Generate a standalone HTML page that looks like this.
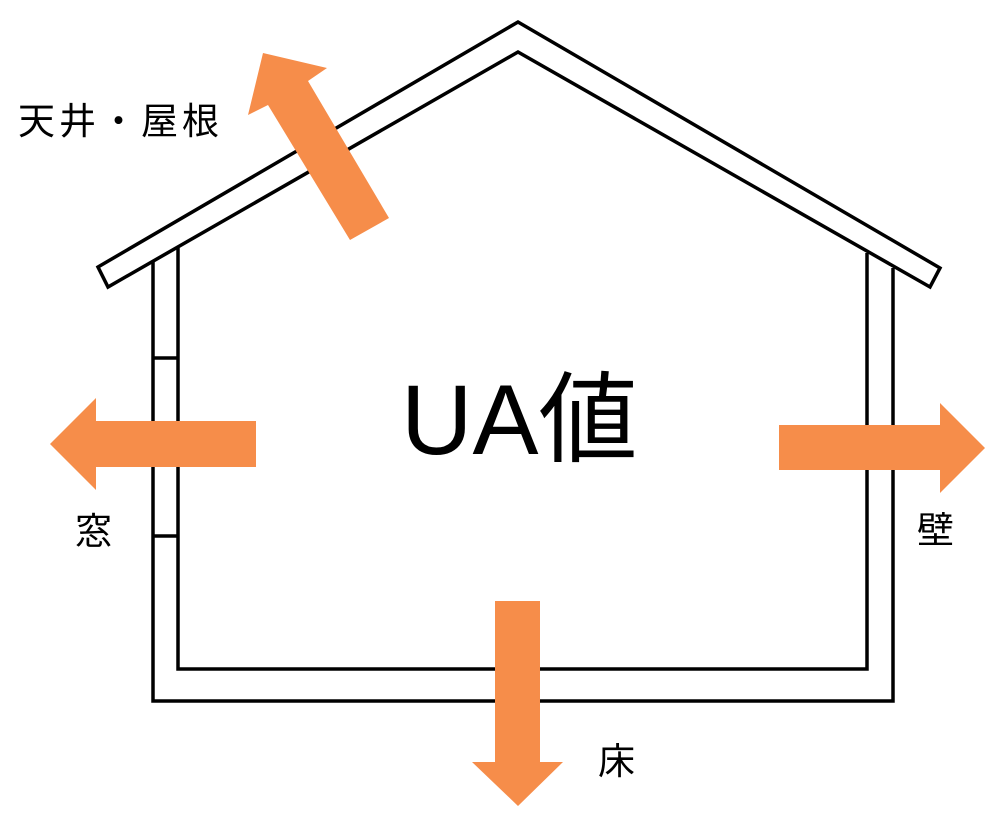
<!DOCTYPE html>
<html><head><meta charset="utf-8"><style>
html,body{margin:0;padding:0;background:#fff;}
svg{display:block}
text{font-family:"Liberation Sans","Noto Sans CJK JP",sans-serif;fill:#000}
</style></head><body>
<svg width="1006" height="822" viewBox="0 0 1006 822" xmlns="http://www.w3.org/2000/svg">
<g fill="none" stroke="#000" stroke-width="3.5" stroke-linejoin="miter">
<polygon points="98,267 518,22 940,268 930,287 518,52 108,287" fill="#fff"/>
<polyline points="153,262 153,701 893,701 893,268"/>
<polyline points="178,248 178,669 867,669 867,253"/>
<line x1="153" y1="358" x2="178" y2="358"/>
<line x1="153" y1="536" x2="178" y2="536"/>
</g>
<g fill="#f68d4a">
<polygon points="263,53 327,68 308,81 389,218 350,240 268,105 248,115"/>
<polygon points="50,444 96,398 96,421 256,421 256,467 96,467 96,490"/>
<polygon points="985,448 940,403 940,425 779,425 779,470 940,470 940,493"/>
<polygon points="518,806 472,762 495,762 495,601 540,601 540,762 563,762"/>
</g>
<text x="18" y="134" font-size="37" letter-spacing="4">天井・屋根</text>
<text x="401" y="454" font-size="99">UA値</text>
<text x="75" y="544" font-size="37">窓</text>
<text x="917" y="543" font-size="37">壁</text>
<text x="598" y="774" font-size="37">床</text>
</svg>
</body></html>
